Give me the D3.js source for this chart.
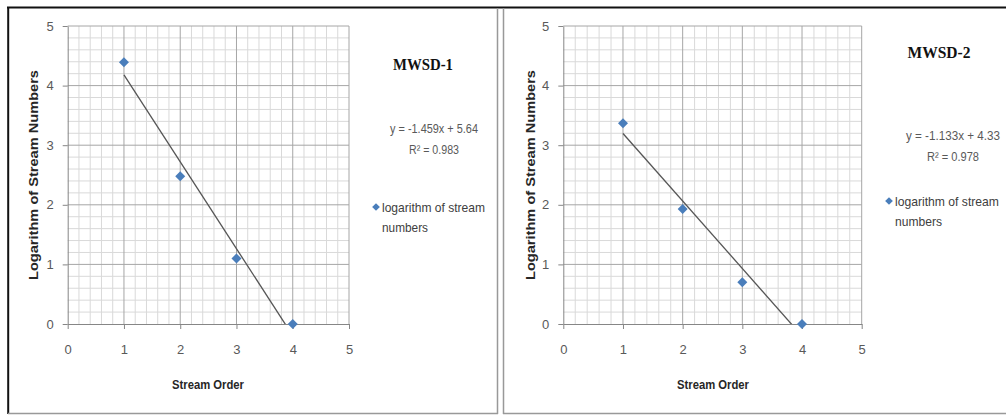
<!DOCTYPE html>
<html>
<head>
<meta charset="utf-8">
<script src="https://cdn.jsdelivr.net/npm/d3@7"></script>
<style>
  body { margin: 0; background: #fff; }
  svg { display: block; }
  .narrow { font-family: "Liberation Sans Narrow", "Arial Narrow", "Liberation Sans", Arial, sans-serif; }
</style>
</head>
<body>
<div id="chart"></div>
<script>
const width = 1006,
      height = 416;

// values
const streamOrder = [1, 2, 3, 4];
const logMWSD1 = [4.39, 2.48, 1.1, 0];
const logMWSD2 = [3.37, 1.93, 0.7, 0];
const titles = ['MWSD-1', 'MWSD-2'];
const slopes = [-1.459, -1.133];
const intercepts = [5.64, 4.33];
const rSquared = [0.983, 0.978];
const xTicks = [0, 1, 2, 3, 4, 5];
const yTicks = [0, 1, 2, 3, 4, 5];

const panels = [
    { values: logMWSD1, x0: 67.7, x1: 349, titleX: 423, titleY: 70, titleW: 60, eqX: 434, eqY: 133, eqW: [88, 50],
      legX: 376, legY: 207, legW: [103, 46], yLabX: 33, xLabX: 208 },
    { values: logMWSD2, x0: 563.3, x1: 861.7, titleX: 939, titleY: 58, titleW: 63, eqX: 953, eqY: 140, eqW: [94, 52],
      legX: 889, legY: 201, legW: [104, 47], yLabX: 530, xLabX: 713 }
];

const svg = d3.select('#chart').append('svg')
    .attr('width', width)
    .attr('height', height);

// frames
svg.append('line').attr('x1', 7).attr('x2', width).attr('y1', 7.5).attr('y2', 7.5)
    .attr('stroke', '#111').attr('stroke-width', 2);
svg.append('line').attr('x1', 8.2).attr('x2', 8.2).attr('y1', 7).attr('y2', 414)
    .attr('stroke', '#111').attr('stroke-width', 2);
svg.append('line').attr('x1', 8).attr('x2', 498).attr('y1', 413.5).attr('y2', 413.5)
    .attr('stroke', '#999').attr('stroke-width', 1.5);
svg.append('line').attr('x1', 497.5).attr('x2', 497.5).attr('y1', 8).attr('y2', 414)
    .attr('stroke', '#999').attr('stroke-width', 1.5);
svg.append('line').attr('x1', 503.5).attr('x2', 503.5).attr('y1', 8).attr('y2', 414)
    .attr('stroke', '#999').attr('stroke-width', 1.5);
svg.append('line').attr('x1', 503).attr('x2', width).attr('y1', 413.5).attr('y2', 413.5)
    .attr('stroke', '#999').attr('stroke-width', 1.5);

panels.forEach((p, i) => {
    const x = d3.scaleLinear().domain([0, 5]).range([p.x0, p.x1]);
    const y = d3.scaleLinear().domain([0, 5]).range([324, 26]);
    const g = svg.append('g');

    // minor grid every 0.2
    const minor = d3.range(0, 25).map(k => k * 0.2).filter(v => Math.abs(v - Math.round(v)) > 1e-6);
    g.append('g').selectAll('line').data(minor).enter().append('line')
        .attr('x1', d => x(d)).attr('x2', d => x(d)).attr('y1', y(0)).attr('y2', y(5))
        .attr('stroke', '#d9d9d9').attr('stroke-width', 1);
    g.append('g').selectAll('line').data(minor).enter().append('line')
        .attr('x1', x(0)).attr('x2', x(5)).attr('y1', d => y(d)).attr('y2', d => y(d))
        .attr('stroke', '#d9d9d9').attr('stroke-width', 1);

    // major grid
    g.append('g').selectAll('line').data(xTicks.slice(1)).enter().append('line')
        .attr('x1', d => x(d)).attr('x2', d => x(d)).attr('y1', y(0)).attr('y2', y(5))
        .attr('stroke', '#a6a6a6').attr('stroke-width', 1);
    g.append('g').selectAll('line').data(yTicks.slice(1)).enter().append('line')
        .attr('x1', x(0)).attr('x2', x(5)).attr('y1', d => y(d)).attr('y2', d => y(d))
        .attr('stroke', '#a6a6a6').attr('stroke-width', 1);

    // axes
    const xAxis = g.append('g')
        .attr('transform', `translate(0,${y(0)})`)
        .call(d3.axisBottom(x).tickValues(xTicks).tickFormat(d3.format('d'))
            .tickSize(5).tickPadding(16).tickSizeOuter(0));
    const yAxis = g.append('g')
        .attr('transform', `translate(${x(0)},0)`)
        .call(d3.axisLeft(y).tickValues(yTicks).tickFormat(d3.format('d'))
            .tickSize(5).tickPadding(9).tickSizeOuter(0));
    [xAxis, yAxis].forEach(a => {
        a.select('.domain').attr('stroke', '#868686');
        a.selectAll('.tick line').attr('stroke', '#868686');
        a.selectAll('.tick text').attr('class', 'narrow').attr('fill', '#595959').style('font-size', '13px');
    });

    // trendline, clipped to plot area
    const clipId = 'clip' + i;
    svg.append('clipPath').attr('id', clipId).append('rect')
        .attr('x', x(0)).attr('y', y(5)).attr('width', x(5) - x(0)).attr('height', y(0) - y(5));
    const xs = [d3.min(streamOrder), d3.max(streamOrder)];
    g.append('line')
        .attr('clip-path', `url(#${clipId})`)
        .attr('x1', x(xs[0])).attr('y1', y(slopes[i] * xs[0] + intercepts[i]))
        .attr('x2', x(xs[1])).attr('y2', y(slopes[i] * xs[1] + intercepts[i]))
        .attr('stroke', '#555').attr('stroke-width', 1.3);

    // points
    const diamond = d3.symbol(d3.symbolSquare, 50);
    g.append('g').selectAll('path').data(streamOrder.map((s, j) => [s, p.values[j]])).enter().append('path')
        .attr('d', diamond)
        .attr('transform', d => `translate(${x(d[0])},${y(d[1])}) rotate(45)`)
        .attr('fill', '#4a7ebb');

    // axis titles
    g.append('text')
        .attr('class', 'narrow')
        .attr('transform', `translate(${p.yLabX},175) rotate(-90)`)
        .attr('dy', '0.35em')
        .attr('text-anchor', 'middle')
        .attr('textLength', 210).attr('lengthAdjust', 'spacingAndGlyphs')
        .style('font-size', '13px').style('font-weight', 'bold')
        .attr('fill', '#262626')
        .text('Logarithm of Stream Numbers');
    g.append('text')
        .attr('class', 'narrow')
        .attr('x', p.xLabX).attr('y', 389)
        .attr('text-anchor', 'middle')
        .attr('textLength', 72).attr('lengthAdjust', 'spacingAndGlyphs')
        .style('font-size', '13px').style('font-weight', 'bold')
        .attr('fill', '#262626')
        .text('Stream Order');

    // title
    g.append('text')
        .attr('x', p.titleX).attr('y', p.titleY)
        .attr('text-anchor', 'middle')
        .attr('textLength', p.titleW).attr('lengthAdjust', 'spacingAndGlyphs')
        .style('font-family', '"Liberation Serif", "Times New Roman", serif')
        .style('font-size', '16px').style('font-weight', 'bold')
        .attr('fill', '#111')
        .text(titles[i]);

    // equation
    const eq = g.append('text').attr('class', 'narrow')
        .attr('text-anchor', 'middle')
        .style('font-size', '12.5px')
        .attr('fill', '#595959');
    eq.append('tspan').attr('x', p.eqX).attr('y', p.eqY)
        .attr('textLength', p.eqW[0]).attr('lengthAdjust', 'spacingAndGlyphs')
        .text(`y = ${slopes[i].toFixed(3)}x + ${intercepts[i].toFixed(2)}`);
    eq.append('tspan').attr('x', p.eqX).attr('y', p.eqY + 21)
        .attr('textLength', p.eqW[1]).attr('lengthAdjust', 'spacingAndGlyphs')
        .text(`R² = ${rSquared[i].toFixed(3)}`);

    // legend
    g.append('path')
        .attr('d', d3.symbol(d3.symbolSquare, 30))
        .attr('transform', `translate(${p.legX},${p.legY}) rotate(45)`)
        .attr('fill', '#4a7ebb');
    const leg = g.append('text').attr('class', 'narrow')
        .style('font-size', '13px')
        .attr('fill', '#404040');
    leg.append('tspan').attr('x', p.legX + 6).attr('y', p.legY + 5)
        .attr('textLength', p.legW[0]).attr('lengthAdjust', 'spacingAndGlyphs')
        .text('logarithm of stream');
    leg.append('tspan').attr('x', p.legX + 6).attr('y', p.legY + 25)
        .attr('textLength', p.legW[1]).attr('lengthAdjust', 'spacingAndGlyphs')
        .text('numbers');
});
</script>
</body>
</html>
